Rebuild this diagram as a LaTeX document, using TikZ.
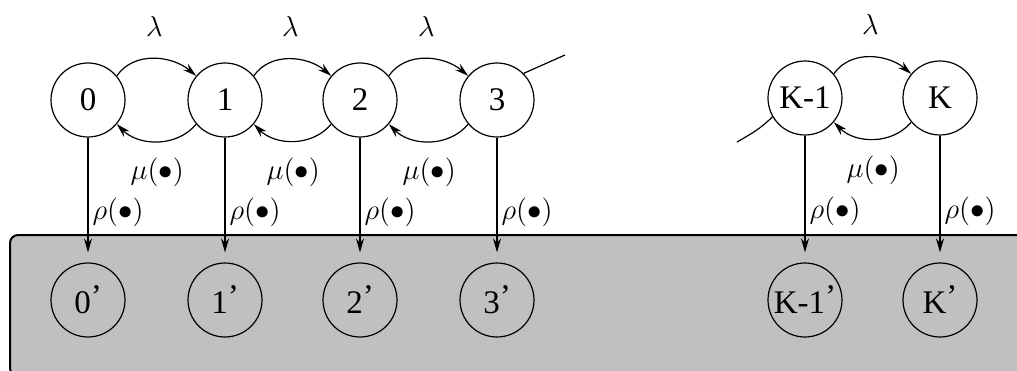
\documentclass[tikz,border=0pt]{standalone}
\usepackage{fontspec}
\setmainfont{Liberation Serif}
\usepackage{tikz}
\usetikzlibrary{arrows.meta}
\newcommand{\statesize}{37pt}
\newcommand{\pr}{\raisebox{3pt}{'}}
\definecolor{poolgray}{RGB}{192,192,192}
\tikzstyle{state}=[draw, circle, inner sep=0, minimum size=\statesize, font=\fontsize{16.5}{19}\selectfont]
\tikzstyle{trans}=[-{Stealth[length=7pt, width=4pt]}]
\tikzstyle{rate}=[inner sep=1pt, font=\fontsize{14}{16}\selectfont]
\tikzstyle{chain}=[x=0.5pt, y=0.5pt, line width=0.6pt]

\begin{document}
\begin{tikzpicture}[chain]
        \useasboundingbox (0, 0) rectangle (1017, 370);
        % shaded pool holding the primed states
        \draw[fill=poolgray, line width=1pt, rounded corners=4pt] (10, -6) rectangle (1040, 135);
        % upper chain
        \node[state] (s0) at (88, 270) {0};
        \node[state] (s1) at (225, 270) {1};
        \node[state] (s2) at (360, 270) {2};
        \node[state] (s3) at (497, 270) {3};
        \node[state] (sK1) at (805, 272) {K-1};
        \node[state] (sK) at (940, 272) {K};
        % lower row
        \node[state] (b0) at (88, 70) {0\pr};
        \node[state] (b1) at (225, 70) {1\pr};
        \node[state] (b2) at (360, 70) {2\pr};
        \node[state] (b3) at (497, 70) {3\pr};
        \node[state] (bK1) at (805, 70) {K-1\pr};
        \node[state] (bK) at (940, 70) {K\pr};
        % arrivals and departures
        \foreach \a/\b in {s0/s1, s1/s2, s2/s3, sK1/sK} {
            \draw[trans] (\a.40) to[out=55, in=140] node[rate, above=10pt] {$\lambda$} (\b.140);
            \draw[trans] (\b.-140) to[out=-130, in=-45] node[rate, below=7pt] {$\mu(\bullet)$} (\a.-40);
        }
        % loose ends of the chain
        \coordinate (t3) at (565, 315);
        \coordinate (tK) at (737, 228);
        \draw (s3.45) -- (t3);
        \draw (sK1.210) to[out=225, in=30] (tK);
        % drops into the pool
        \foreach \i in {0, 1, 2, 3, K1, K} {
            \draw[trans, shorten >=5pt] (s\i) -- node[rate, pos=0.6, right=1pt] {$\rho(\bullet)$} (b\i);
        }
    \end{tikzpicture}
\end{document}
